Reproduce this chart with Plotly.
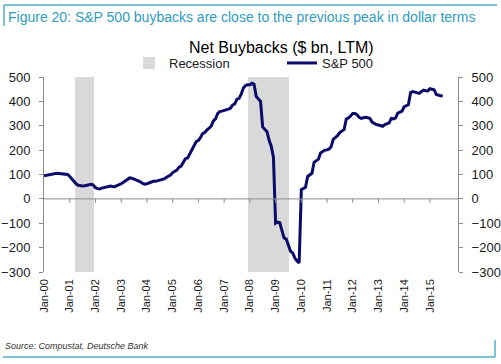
import pandas as pd
import plotly.graph_objects as go

# ---------------- data ----------------
start_month = "2000-01-01"
buybacks = [
    # 2000
    95, 97, 99, 102, 104, 105, 105, 104, 103, 103, 102, 100,
    # 2001
    92, 80, 72, 62, 56, 54, 53, 54, 56, 58, 60, 57,
    # 2002
    46, 42, 41, 44, 46, 48, 52, 53, 51, 50, 54, 57,
    # 2003
    62, 68, 74, 80, 86, 85, 82, 78, 74, 70, 63, 60,
    # 2004
    62, 66, 70, 72, 72, 74, 78, 80, 82, 88, 92, 98,
    # 2005
    108, 113, 118, 130, 134, 150, 165, 168, 185, 200, 215, 235,
    # 2006
    240, 252, 268, 272, 282, 292, 298, 320, 328, 350, 358, 360,
    # 2007
    362, 364, 368, 372, 385, 390, 408, 412, 430, 455, 465, 468,
    # 2008
    468, 474, 470, 420, 410, 400, 295, 285, 275, 240, 215, 170,
    # 2009
    -100, -95, -98, -130, -160, -165, -190, -215, -222, -243, -255, -263,
    # 2010
    38, 44, 48, 92, 98, 105, 150, 158, 163, 188, 195, 200,
    # 2011
    201, 205, 215, 245, 252, 260, 272, 278, 285, 328, 332, 340,
    # 2012
    350, 350, 345, 335, 330, 333, 335, 333, 330, 315, 308, 305,
    # 2013
    303, 300, 298, 305, 308, 312, 330, 328, 332, 352, 356, 360,
    # 2014
    378, 382, 386, 436, 440, 438, 434, 433, 440, 446, 444, 443,
    # 2015
    452, 450, 448, 428, 424, 423, 422,
]
recession_starts = ["2001-04-01", "2008-01-01"]
recession_ends = ["2001-12-01", "2009-07-01"]
recession_top = 500
recession_bottom = -300

tick_years = list(range(2000, 2016))
tick_labels = ["Jan-%02d" % (y % 100) for y in tick_years]
y_ticks = [-300, -200, -100, 0, 100, 200, 300, 400, 500]

title_text = "Net Buybacks ($ bn, LTM)"
header_text = "Figure 20: S&P 500 buybacks are close to the previous peak in dollar terms"
source_text = "Source: Compustat, Deutsche Bank"

# ---------------- derived ----------------
dates = pd.date_range(start_month, periods=len(buybacks), freq="MS")
rec_months = []
for s, e in zip(recession_starts, recession_ends):
    rec_months += list(pd.date_range(s, e, freq="MS"))
tick_vals = [pd.Timestamp(f"{y}-01-01") for y in tick_years]

W, H = 501, 364
ML, MR, MT, MB = 44, 43, 77, 92
PW, PH = W - ML - MR, H - MT - MB
Y_MIN, Y_MAX = -300, 500
TICK_DATA_LEN = 4 * (Y_MAX - Y_MIN) / PH  # 4 px tick marks on the zero line


def px(x):
    return (x - ML) / PW


def py(y):
    return (H - MB - y) / PH


FONT = "Liberation Sans, Arial, sans-serif"
TEAL = "#2f9cc2"
LINE_TEAL = "#4fb0c8"
AX = "#8c8c8c"

fig = go.Figure()
fig.add_trace(go.Bar(
    x=rec_months, y=[recession_top - recession_bottom] * len(rec_months),
    base=recession_bottom, name="Recession",
    marker=dict(color="#d9d9d9", line=dict(width=0)),
    xaxis="x", yaxis="y", hoverinfo="skip",
))
fig.add_trace(go.Scatter(
    x=dates, y=buybacks, mode="lines", name="S&P 500",
    line=dict(color="#0b0b6b", width=3), xaxis="x", yaxis="y2",
))

xr = [pd.Timestamp("2000-01-01"), pd.Timestamp("2016-02-03")]
fig.update_layout(
    width=W, height=H,
    margin=dict(l=ML, r=MR, t=MT, b=MB, autoexpand=False),
    paper_bgcolor="white", plot_bgcolor="white",
    font=dict(family=FONT, color="#1a1a1a", size=13),
    bargap=0,
    showlegend=True,
    legend=dict(
        orientation="h", x=px(129), y=py(63), xanchor="left", yanchor="middle",
        font=dict(size=13, color="#1a1a1a"),
        entrywidth=108, entrywidthmode="pixels",
        bgcolor="rgba(0,0,0,0)", traceorder="normal",
        tracegroupgap=0, itemwidth=30,
    ),
    xaxis=dict(
        type="date", range=xr, showgrid=False, zeroline=False, automargin=False,
        showline=False, ticks="", tickvals=tick_vals, ticktext=tick_labels,
        tickangle=-90, tickfont=dict(size=11), ticklabelstandoff=4,
    ),
    yaxis=dict(
        range=[Y_MIN, Y_MAX], tickvals=y_ticks, showgrid=False, zeroline=False,
        showline=True, linecolor=AX, linewidth=1, ticks="outside", ticklen=4,
        tickcolor=AX, tickfont=dict(size=13), ticklabelstandoff=6, automargin=False,
    ),
    yaxis2=dict(
        range=[Y_MIN, Y_MAX], tickvals=y_ticks, overlaying="y", side="right",
        showgrid=False, zeroline=False, showline=True, linecolor=AX, linewidth=1,
        ticks="outside", ticklen=4, tickcolor=AX, tickfont=dict(size=13),
        ticklabelstandoff=6, automargin=False,
    ),
)

ann = []
ann.append(dict(text=header_text, x=px(6), y=py(17), xref="paper", yref="paper",
                xanchor="left", yanchor="middle", showarrow=False,
                font=dict(size=14, color=TEAL, family=FONT)))
ann.append(dict(text=title_text, x=px(281), y=py(47), xref="paper", yref="paper",
                xanchor="center", yanchor="middle", showarrow=False,
                font=dict(size=16, color="#000000", family=FONT)))
ann.append(dict(text="<i>" + source_text + "</i>", x=px(3), y=py(346), xref="paper",
                yref="paper", xanchor="left", yanchor="middle", showarrow=False,
                font=dict(size=9, color="#333333", family=FONT)))
fig.update_layout(annotations=ann)

shapes = [
    # decorative frame pieces
    dict(type="line", xref="paper", yref="paper", x0=px(4), x1=px(497), y0=py(5), y1=py(5),
         line=dict(color=LINE_TEAL, width=1.5)),
    dict(type="line", xref="paper", yref="paper", x0=px(4), x1=px(4), y0=py(5), y1=py(26),
         line=dict(color=LINE_TEAL, width=1.5)),
    dict(type="line", xref="paper", yref="paper", x0=px(3), x1=px(495), y0=py(357), y1=py(357),
         line=dict(color=LINE_TEAL, width=1.5)),
    dict(type="line", xref="paper", yref="paper", x0=px(495), x1=px(495), y0=py(340), y1=py(357),
         line=dict(color=LINE_TEAL, width=1.5)),
    # category axis crossing at zero
    dict(type="line", xref="paper", yref="y", x0=0, x1=1, y0=0, y1=0,
         line=dict(color=AX, width=1), layer="above"),
]
for t in tick_vals[1:]:
    shapes.append(dict(type="line", xref="x", yref="y", x0=t, x1=t, y0=0, y1=-TICK_DATA_LEN,
                       line=dict(color=AX, width=1), layer="above"))
fig.update_layout(shapes=shapes)

fig.write_html("out.html", config={"displayModeBar": False},
               post_script="document.body.style.margin='0';")
